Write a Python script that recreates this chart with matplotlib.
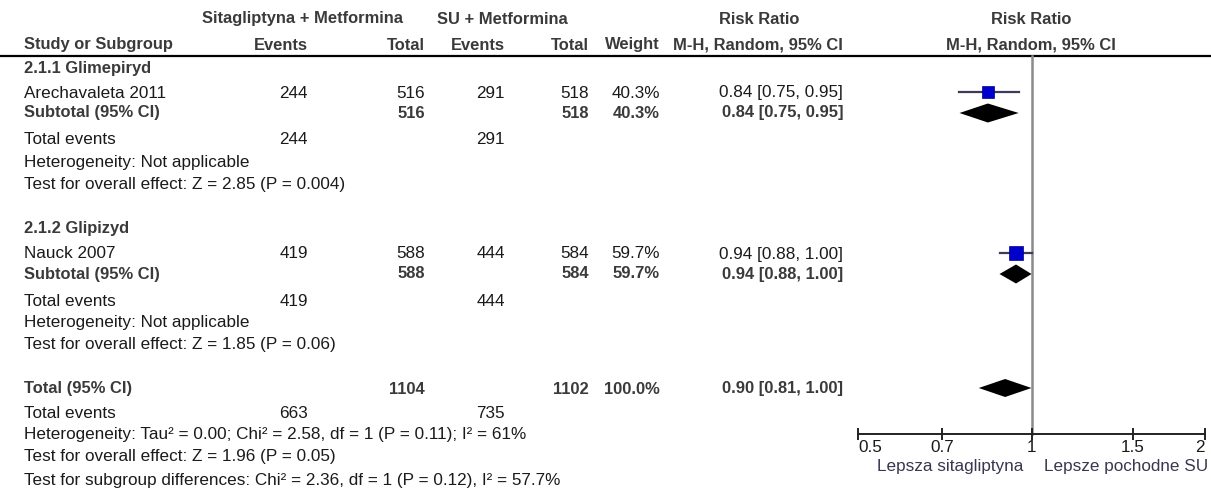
import matplotlib
matplotlib.use('Agg')
import matplotlib.pyplot as plt
from matplotlib.ticker import NullLocator, FixedLocator, FixedFormatter

plt.rcParams['font.family'] = ['Liberation Sans', 'DejaVu Sans']

# dane z wykresu
grupy = ['2.1.1 Glimepiryd', '2.1.2 Glipizyd']
badania = ['Arechavaleta 2011', 'Nauck 2007']
sita_zdarzenia = [244, 419]
sita_razem = [516, 588]
su_zdarzenia = [291, 444]
su_razem = [518, 584]
wagi = [40.3, 59.7]
rr = [0.84, 0.94]
rr_lo = [0.75, 0.88]
rr_hi = [0.95, 1.00]
test_z = ['Test for overall effect: Z = 2.85 (P = 0.004)',
          'Test for overall effect: Z = 1.85 (P = 0.06)']

# razem
razem_sita = 1104
razem_su = 1102
razem_sita_zd = 663
razem_su_zd = 735
razem_waga = 100.0
razem_rr, razem_lo, razem_hi = 0.90, 0.81, 1.00
stopka = ['Heterogeneity: Tau² = 0.00; Chi² = 2.58, df = 1 (P = 0.11); I² = 61%',
          'Test for overall effect: Z = 1.96 (P = 0.05)',
          'Test for subgroup differences: Chi² = 2.36, df = 1 (P = 0.12), I² = 57.7%']

ticki = [0.5, 0.7, 1, 1.5, 2]
tick_labels = ['0.5', '0.7', '1', '1.5', '2']

W, H = 1211, 493
fig = plt.figure(figsize=(W / 100, H / 100), dpi=100)
ax = fig.add_axes([0, 0, 1, 1])
ax.set_xlim(0, W)
ax.set_ylim(H, 0)
ax.axis('off')

fs = 12.3
fsb = 11.9
kol = '#1a1a1a'
kol_h = '#3a3a3a'

# kolumny (prawa krawędź)
x_nazwa = 24
x_ev1, x_tot1, x_ev2, x_tot2, x_w, x_ci = 308, 425, 505, 589, 660, 843


def t(x, y, s, ha='left', bold=False, c=kol):
    ax.text(x, y, s, ha=ha, va='center', fontsize=fsb if bold else fs, color=c,
            fontweight='bold' if bold else 'normal')


# nagłówek
t(303, 19, 'Sitagliptyna + Metformina', 'center', True, kol_h)
t(502, 19, 'SU + Metformina', 'center', True, kol_h)
t(759, 19, 'Risk Ratio', 'center', True, kol_h)
t(1031, 19, 'Risk Ratio', 'center', True, kol_h)
t(x_nazwa, 45, 'Study or Subgroup', 'left', True, kol_h)
t(x_ev1, 45, 'Events', 'right', True, kol_h)
t(x_tot1, 45, 'Total', 'right', True, kol_h)
t(x_ev2, 45, 'Events', 'right', True, kol_h)
t(x_tot2, 45, 'Total', 'right', True, kol_h)
t(x_w, 45, 'Weight', 'right', True, kol_h)
t(x_ci, 45, 'M-H, Random, 95% CI', 'right', True, kol_h)
t(1031, 45, 'M-H, Random, 95% CI', 'center', True, kol_h)
ax.plot([0, W], [56, 56], color='black', lw=1.6)

# forest - osobna oś w skali log
axf = fig.add_axes([858 / W, 0, (1205 - 858) / W, 1])
axf.set_xscale('log')
axf.set_xlim(0.5, 2)
axf.set_ylim(H, 0)
for s in ['top', 'left', 'right']:
    axf.spines[s].set_visible(False)
axf.spines['bottom'].set_position(('data', 434))
axf.spines['bottom'].set_linewidth(1.4)
axf.spines['bottom'].set_color('#222222')
axf.patch.set_alpha(0)
axf.yaxis.set_visible(False)
axf.xaxis.set_major_locator(FixedLocator(ticki))
axf.xaxis.set_major_formatter(FixedFormatter(tick_labels))
axf.xaxis.set_minor_locator(NullLocator())
axf.tick_params(axis='x', direction='inout', length=9, width=1.4, color='#222222',
                labelsize=fs, labelcolor=kol, pad=0)
labs = axf.get_xticklabels()
labs[0].set_ha('left')
labs[-1].set_ha('right')
axf.plot([1, 1], [56, 434], color='#8a8a8a', lw=1.8, zorder=1)
axf.text(0.967, 467, 'Lepsza sitagliptyna', ha='right', va='center', fontsize=fs, color='#3a3550')
axf.text(1.05, 467, 'Lepsze pochodne SU', ha='left', va='center', fontsize=fs, color='#3a3550')


def romb(y, est, lo, hi, h):
    axf.fill([lo, est, hi, est], [y, y - h / 2, y, y + h / 2], color='black', lw=0, zorder=3)


offs = [0, 25, 45, 72, 94, 116]
y0s = [68, 229]
for i in range(len(badania)):
    y0 = y0s[i]
    yb, ys, yte, yh, ytz = [y0 + o for o in offs[1:]]
    t(x_nazwa, y0, grupy[i], 'left', True, kol_h)
    t(x_nazwa, yb, badania[i])
    t(x_ev1, yb, str(sita_zdarzenia[i]), 'right')
    t(x_tot1, yb, str(sita_razem[i]), 'right')
    t(x_ev2, yb, str(su_zdarzenia[i]), 'right')
    t(x_tot2, yb, str(su_razem[i]), 'right')
    t(x_w, yb, f'{wagi[i]:.1f}%', 'right')
    ci = f'{rr[i]:.2f} [{rr_lo[i]:.2f}, {rr_hi[i]:.2f}]'
    t(x_ci, yb, ci, 'right')
    t(x_nazwa, ys, 'Subtotal (95% CI)', 'left', True, kol_h)
    t(x_tot1, ys, str(sita_razem[i]), 'right', True, kol_h)
    t(x_tot2, ys, str(su_razem[i]), 'right', True, kol_h)
    t(x_w, ys, f'{wagi[i]:.1f}%', 'right', True, kol_h)
    t(x_ci, ys, ci, 'right', True, kol_h)
    t(x_nazwa, yte, 'Total events')
    t(x_ev1, yte, str(sita_zdarzenia[i]), 'right')
    t(x_ev2, yte, str(su_zdarzenia[i]), 'right')
    t(x_nazwa, yh, 'Heterogeneity: Not applicable')
    t(x_nazwa, ytz, test_z[i])

    # marker badania
    axf.plot([rr_lo[i], rr_hi[i]], [yb - 1, yb - 1], color='#3c3c5a', lw=1.6, zorder=2)
    axf.plot([rr[i]], [yb - 1], marker='s', ms=(wagi[i] / 40.3) ** 0.5 * 8.5,
             color='#0000cc', mec='#000088', mew=0.5, zorder=4)
    romb(ys, rr[i], rr_lo[i], rr_hi[i], 19)

# razem
yt = 389
t(x_nazwa, yt, 'Total (95% CI)', 'left', True, kol_h)
t(x_tot1, yt, str(razem_sita), 'right', True, kol_h)
t(x_tot2, yt, str(razem_su), 'right', True, kol_h)
t(x_w, yt, f'{razem_waga:.1f}%', 'right', True, kol_h)
t(x_ci, yt, f'{razem_rr:.2f} [{razem_lo:.2f}, {razem_hi:.2f}]', 'right', True, kol_h)
t(x_nazwa, 414, 'Total events')
t(x_ev1, 414, str(razem_sita_zd), 'right')
t(x_ev2, 414, str(razem_su_zd), 'right')
for k, s in enumerate(stopka):
    t(x_nazwa, [435, 457, 481][k], s)
romb(yt - 1, razem_rr, razem_lo, razem_hi, 18)

fig.savefig('out.png', dpi=100, facecolor='white')
